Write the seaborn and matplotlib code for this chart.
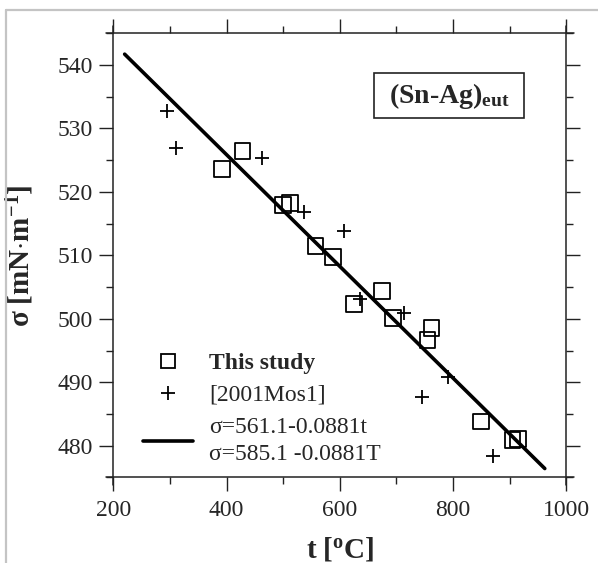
import matplotlib
matplotlib.use('Agg')
import matplotlib.pyplot as plt
from matplotlib.lines import Line2D
from matplotlib.patches import Rectangle
from matplotlib.ticker import MultipleLocator
import seaborn as sns

sns.set_theme(style='white')
plt.rcParams['font.family'] = ['Liberation Serif', 'DejaVu Serif']
plt.rcParams['mathtext.fontset'] = 'custom'
plt.rcParams['mathtext.rm'] = 'Liberation Serif'
plt.rcParams['mathtext.it'] = 'Liberation Serif:italic'
plt.rcParams['mathtext.bf'] = 'Liberation Serif:bold'

# this study (squares)
study_t = [392, 428, 499, 512, 557, 588, 625, 675, 694, 755, 762, 849, 905, 915]
study_sigma = [523.6, 526.4, 517.9, 518.2, 511.5, 509.8, 502.3, 504.4, 500.1,
               496.6, 498.6, 483.8, 480.9, 481.0]

# [2001Mos1] (plus signs)
mos_t = [294, 310, 462, 537, 607, 635, 713, 746, 791, 871]
mos_sigma = [532.7, 526.9, 525.3, 516.9, 513.8, 503.1, 500.9, 487.6, 490.9, 478.4]

# fitted line sigma = 561.1 - 0.0881 t, end points
line_t = [220, 962]
line_sigma = [541.7, 476.4]

legend_labels = ['This study', '[2001Mos1]', 'σ=561.1-0.0881t\nσ=585.1 -0.0881T']

fig = plt.figure(figsize=(5.98, 5.63), dpi=100)
ax = fig.add_axes([0.1895, 0.152, 0.7575, 0.789])

sns.lineplot(x=line_t, y=line_sigma, color='black', lw=2.6, ax=ax, zorder=3)
sns.scatterplot(x=study_t, y=study_sigma, marker='s', s=130, facecolors='none',
                edgecolor='black', linewidth=1.3, ax=ax, zorder=2)
sns.scatterplot(x=mos_t, y=mos_sigma, marker='+', s=110, color='black',
                linewidth=1.3, ax=ax, zorder=2)

ax.set_xlim(200, 1000)
ax.set_ylim(475, 545)
ax.xaxis.set_major_locator(MultipleLocator(200))
ax.xaxis.set_minor_locator(MultipleLocator(100))
ax.yaxis.set_major_locator(MultipleLocator(10))
ax.yaxis.set_minor_locator(MultipleLocator(5))
ax.tick_params(which='both', direction='out', top=True, right=True,
               bottom=True, left=True, labeltop=False, labelright=False,
               color='#222222', width=1.0, labelsize=17, pad=4.5)
ax.tick_params(axis='x', which='major', pad=6.5)
ax.tick_params(which='major', length=10)
ax.tick_params(which='minor', length=5)

# frame lines that run a little past the corners
for s in ax.spines.values():
    s.set_visible(False)
ox, oy = 0.016, 0.016
frame_kw = dict(transform=ax.transAxes, clip_on=False, color='#222222', lw=1.1)
ax.plot([-ox, 1 + ox], [0, 0], **frame_kw)
ax.plot([-ox, 1 + ox], [1, 1], **frame_kw)
ax.plot([0, 0], [-oy, 1 + oy], **frame_kw)
ax.plot([1, 1], [-oy, 1 + oy], **frame_kw)

ax.set_xlabel(r'$\mathbf{t\ [^{o}C]}$', fontsize=21)
ax.set_ylabel(r'$\mathbf{σ\ [mN{\cdot}m^{-1}]}$', fontsize=21)
ax.xaxis.set_label_coords(0.5, -0.13)
ax.yaxis.set_label_coords(-0.17, 0.5)

# label box
ax.add_patch(Rectangle((0.5755, 0.809), 0.3311, 0.1016, transform=ax.transAxes,
                       fill=False, ec='#222222', lw=1.2, zorder=4))
ax.text(0.741, 0.858, '(Sn-Ag)$_{\\mathbf{eut}}$', transform=ax.transAxes,
        ha='center', va='center', fontsize=20, fontweight='bold')

handles = [
    Line2D([], [], marker='s', ls='none', mfc='none', mec='black', ms=10.5, mew=1.3),
    Line2D([], [], marker='+', ls='none', color='black', ms=10.5, mew=1.3),
    Line2D([], [], color='black', lw=2.6),
]
leg = ax.legend(handles, legend_labels, loc='lower left',
                bbox_to_anchor=(0.066, 0.028), frameon=False, fontsize=17,
                handlelength=2.1, handletextpad=0.7, borderpad=0,
                borderaxespad=0, labelspacing=0.45)
leg.get_texts()[0].set_fontweight('bold')
leg.get_texts()[2].set_linespacing(1.4)

# grey edge of the cropped page
fig.add_artist(Line2D([0.01, 0.01], [0, 0.982], transform=fig.transFigure,
                      color='#c4c4c4', lw=1.6))
fig.add_artist(Line2D([0.01, 1], [0.982, 0.982], transform=fig.transFigure,
                      color='#c4c4c4', lw=1.6))

fig.savefig('out.png', dpi=100)
